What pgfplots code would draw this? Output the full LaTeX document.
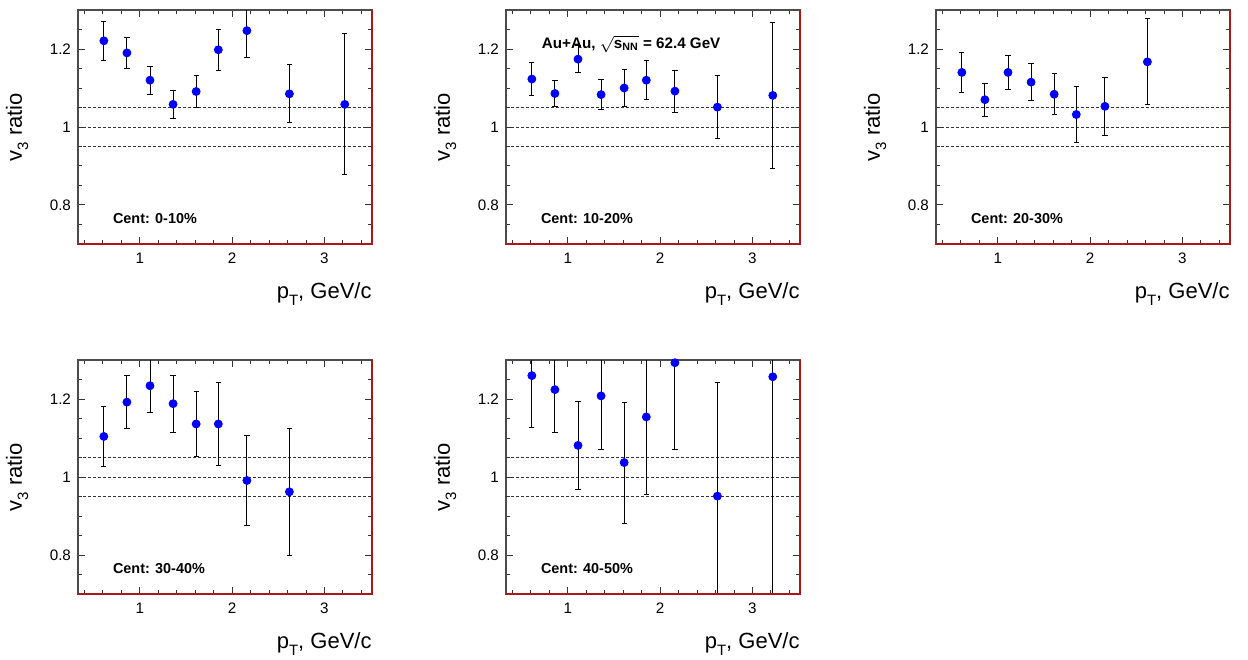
\documentclass[border=0pt]{standalone}
\usepackage{pgfplots}
\pgfplotsset{compat=1.18}
\usepackage{pgfplotstable}
\usepackage{fontspec}
\setmainfont{Liberation Sans}

\pgfplotstableread{
x y e
0.61 1.221 0.050
0.86 1.190 0.039
1.11 1.120 0.036
1.36 1.058 0.036
1.61 1.091 0.042
1.85 1.198 0.053
2.16 1.247 0.069
2.62 1.085 0.074
3.22 1.058 0.181
}\dataA
\pgfplotstableread{
x y e
0.61 1.123 0.043
0.86 1.086 0.033
1.11 1.174 0.034
1.36 1.083 0.038
1.61 1.100 0.047
1.85 1.120 0.050
2.16 1.092 0.054
2.62 1.051 0.081
3.22 1.081 0.187
}\dataB
\pgfplotstableread{
x y e
0.61 1.140 0.052
0.86 1.070 0.042
1.11 1.140 0.044
1.36 1.115 0.048
1.61 1.084 0.052
1.85 1.032 0.071
2.16 1.053 0.074
2.62 1.167 0.110
}\dataC
\pgfplotstableread{
x y e
0.61 1.104 0.076
0.86 1.192 0.067
1.11 1.234 0.068
1.36 1.188 0.073
1.61 1.136 0.084
1.85 1.136 0.107
2.16 0.991 0.116
2.62 0.962 0.163
}\dataD
\pgfplotstableread{
x y e
0.61 1.260 0.134
0.86 1.224 0.109
1.11 1.081 0.112
1.36 1.208 0.138
1.61 1.037 0.155
1.85 1.154 0.198
2.16 1.293 0.223
2.62 0.951 0.292
3.22 1.257 0.600
}\dataE

\definecolor{frameR}{RGB}{170,25,25}
\tikzset{lab/.style={anchor=base west, inner sep=0pt, font=\bfseries\fontsize{7.2}{8}\selectfont}}
\pgfplotsset{
  panel/.style={
    scale only axis, width=147pt, height=117pt,
    xmin=0.33, xmax=3.515, ymin=0.7, ymax=1.3,
    xtick={1,2,3}, ytick={0.8,1,1.2},
    minor xtick={0.4,0.6,0.8,1.2,1.4,1.6,1.8,2.2,2.4,2.6,2.8,3.2,3.4},
    minor ytick={0.75,0.85,0.9,0.95,1.05,1.1,1.15,1.25},
    tick align=inside, major tick length=3.5pt, minor tick length=2pt,
    tick style={black!80, line width=0.5pt},
    /pgf/number format/assume math mode=true,
    ticklabel style={font=\fontsize{7.6}{9}\selectfont},
    xticklabel style={yshift=-1pt},
    axis line style={black!70, line width=0.7pt},
    xlabel={p\raisebox{-0.55ex}{\fontsize{7.5}{8}\selectfont T}, GeV/c},
    ylabel={v\raisebox{-0.55ex}{\fontsize{7.5}{8}\selectfont 3} ratio},
    label style={font=\fontsize{11}{13}\selectfont},
    xlabel style={at={(rel axis cs:1,-0.235)}, anchor=base east, inner sep=0pt},
    ylabel style={at={(rel axis cs:-0.207,0.5)}, anchor=center},
  },
  refl/.style={black!80, dash pattern=on 1.5pt off 1pt, line width=0.5pt, forget plot},
  pts/.style={only marks, mark=*, mark size=2pt,
    mark options={draw=blue, fill=blue},
    error bars/.cd, y dir=both, y explicit,
    error bar style={black, line width=0.5pt},
    error mark options={black, line width=0.5pt, mark size=1.3pt, rotate=90}},
}

\newcommand{\refs}{%
  \addplot[refl] coordinates {(0.33,1.05) (3.515,1.05)};
  \addplot[refl] coordinates {(0.33,1.00) (3.515,1.00)};
  \addplot[refl] coordinates {(0.33,0.95) (3.515,0.95)};
}
\newcommand{\redframe}[1]{%
  \draw[frameR, line width=0.7pt] (#1.south west) -- (#1.south east) -- (#1.north east);
}

\begin{document}
\begin{tikzpicture}
\path[use as bounding box] (0,0) rectangle (624pt,329.5pt);

\begin{axis}[panel, name=a1, anchor=south west, at={(39pt,207.5pt)}]
\refs
\addplot[pts] table[x=x, y=y, y error=e] {\dataA};
\node[lab] at (rel axis cs:0.118,0.0855) {Cent: 0-10\%};
\end{axis}
\redframe{a1}

\begin{axis}[panel, name=a2, anchor=south west, at={(253pt,207.5pt)}]
\refs
\addplot[pts] table[x=x, y=y, y error=e] {\dataB};
\node[lab] at (rel axis cs:0.118,0.0855) {Cent: 10-20\%};
\node[lab, font=\bfseries\fontsize{7.6}{9}\selectfont] at (rel axis cs:0.121,0.836) {Au+Au, $\sqrt{\mbox{\bfseries\fontsize{7.6}{9}\selectfont s\textsubscript{NN}}}$ = 62.4 GeV};
\end{axis}
\redframe{a2}

\begin{axis}[panel, name=a3, anchor=south west, at={(468pt,207.5pt)}]
\refs
\addplot[pts] table[x=x, y=y, y error=e] {\dataC};
\node[lab] at (rel axis cs:0.118,0.0855) {Cent: 20-30\%};
\end{axis}
\redframe{a3}

\begin{axis}[panel, name=a4, anchor=south west, at={(39pt,32.5pt)}]
\refs
\addplot[pts] table[x=x, y=y, y error=e] {\dataD};
\node[lab] at (rel axis cs:0.118,0.0855) {Cent: 30-40\%};
\end{axis}
\redframe{a4}

\begin{axis}[panel, name=a5, anchor=south west, at={(253pt,32.5pt)}]
\refs
\addplot[pts] table[x=x, y=y, y error=e] {\dataE};
\node[lab] at (rel axis cs:0.118,0.0855) {Cent: 40-50\%};
\end{axis}
\redframe{a5}
\end{tikzpicture}
\end{document}
